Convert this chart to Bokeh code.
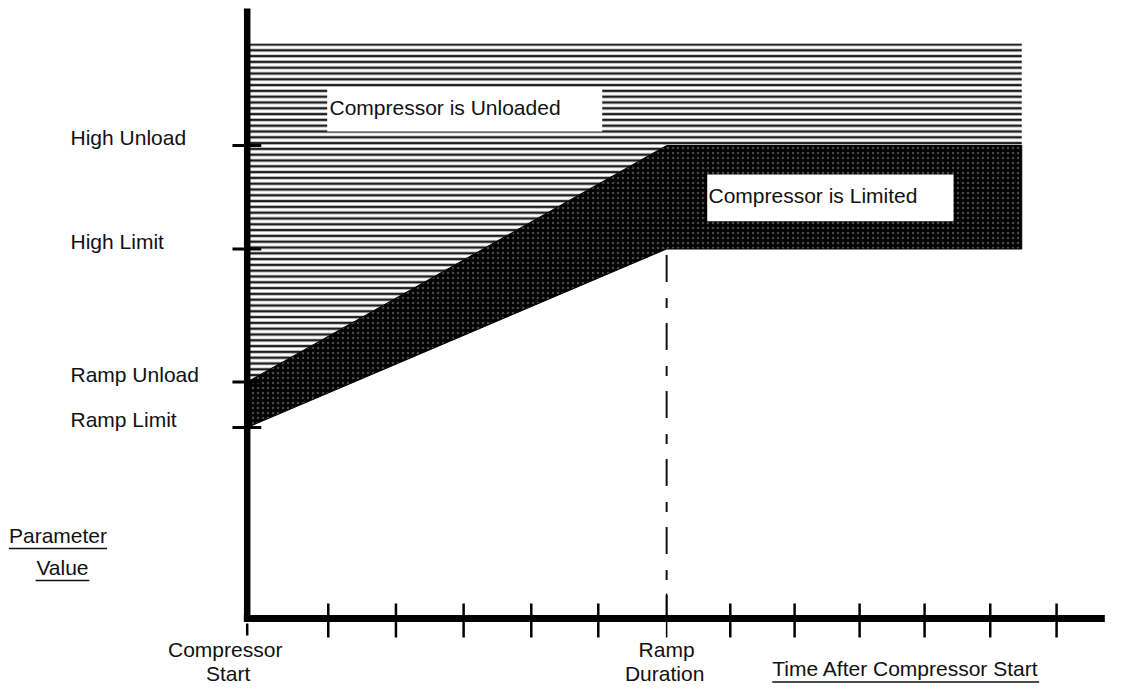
from bokeh.plotting import figure
from bokeh.models import Range1d, ColumnDataSource
from bokeh.embed import file_html
from bokeh.resources import INLINE
from bokeh.core.properties import value

# ---------------- data ----------------
level_names = ["Ramp Limit", "Ramp Unload", "High Limit", "High Unload"]
level_values = [191, 236.5, 369.5, 473]
ramp_limit, ramp_unload, high_limit, high_unload = level_values
unloaded_ceiling = 575          # top of the "unloaded" zone
ramp_duration = 6.26            # time units
time_end = 11.56                # right end of the shaded zones
time_ticks = [1.21, 2.22, 3.23, 4.24, 5.24, 7.21, 8.17, 9.14, 10.11, 11.09, 12.08]
axis_top = 610
axis_right = 12.80
x_label_lines = ["Compressor", "Start", "Ramp", "Duration"]
x_label_at = [0, 0, ramp_duration, ramp_duration]
region_names = ["Compressor is Unloaded", "Compressor is Limited"]

FONT = value("Liberation Sans")
FS = value("21px")
INK = "#111111"
TXT = dict(text_font=FONT, text_font_size=FS, text_color=INK,
           text_baseline="alphabetic", y_offset=-8)

p = figure(width=1107, height=684, output_backend="svg", toolbar_location=None,
           x_range=Range1d(-3.682, 12.840), y_range=Range1d(-66, 618),
           x_axis_location=None, y_axis_location=None, min_border=0,
           outline_line_color=None, background_fill_color="white",
           border_fill_color="white")
p.grid.visible = False

# unloaded zone (horizontal hatch)
p.patch([0, 0, time_end, time_end, ramp_duration],
        [ramp_unload, unloaded_ceiling, unloaded_ceiling, high_unload, high_unload],
        fill_color="white", line_color=None,
        hatch_pattern="horizontal_line", hatch_color="#1e1e1e",
        hatch_weight=2.5, hatch_scale=5.8)

# limited zone (black band)
p.patch([0, ramp_duration, time_end, time_end, ramp_duration, 0],
        [ramp_unload, high_unload, high_unload, high_limit, high_limit, ramp_limit],
        fill_color="black", line_color="black", line_width=1,
        hatch_pattern="dot", hatch_color="#4a4a4a", hatch_weight=1, hatch_scale=5)

# white label boxes
p.quad(left=[1.194, 6.866], right=[5.299, 10.542], bottom=[487, 397.3], top=[530, 444],
       fill_color="white", line_color=None)
p.text(x=[1.228, 6.885], y=[503, 414.7], text=region_names, text_align="left", **TXT)

# ramp duration dashed line
p.segment(x0=[ramp_duration], y0=[high_limit], x1=[ramp_duration], y1=[0],
          line_color=INK, line_width=2, line_dash="27 16 10 15", line_dash_offset=62)

# axes
p.segment(x0=[0], y0=[-2], x1=[0], y1=[axis_top], line_color="black", line_width=6.5)
p.segment(x0=[-0.05], y0=[0], x1=[axis_right], y1=[0], line_color="black", line_width=7)

# y ticks and labels
p.segment(x0=[-0.22] * 4, y0=level_values, x1=[0.21] * 4, y1=level_values,
          line_color="black", line_width=3)
p.text(x=[-2.637] * 4, y=level_values, text=level_names, text_align="left", **TXT)

# x ticks
p.segment(x0=time_ticks, y0=[15] * len(time_ticks), x1=time_ticks, y1=[-19] * len(time_ticks),
          line_color="black", line_width=2.5)
p.segment(x0=[0], y0=[-5], x1=[0], y1=[-17], line_color="black", line_width=2.5)
p.segment(x0=[ramp_duration], y0=[25], x1=[ramp_duration], y1=[-19],
          line_color="black", line_width=1.5)

# x labels
src = ColumnDataSource(dict(x=x_label_at, y=[-39, -63, -39, -63], t=x_label_lines,
                            dx=[-22, -19, 0, -2]))
p.text(x="x", y="y", text="t", x_offset="dx", source=src, text_align="center", **TXT)

# axis titles (underlined)
p.text(x=[7.836], y=[-58], text=["Time After Compressor Start"], text_align="left", **TXT)
p.segment(x0=[7.836], y0=[-63.5], x1=[11.82], y1=[-63.5], line_color=INK, line_width=1.5)

p.text(x=[-2.824, -2.757], y=[75, 43], text=["Parameter", "Value"], text_align="center", **TXT)
p.segment(x0=[-3.555, -3.158], y0=[70, 38], x1=[-2.093, -2.356], y1=[70, 38],
          line_color=INK, line_width=1.5)

open("out.html", "w").write(file_html(p, INLINE))
